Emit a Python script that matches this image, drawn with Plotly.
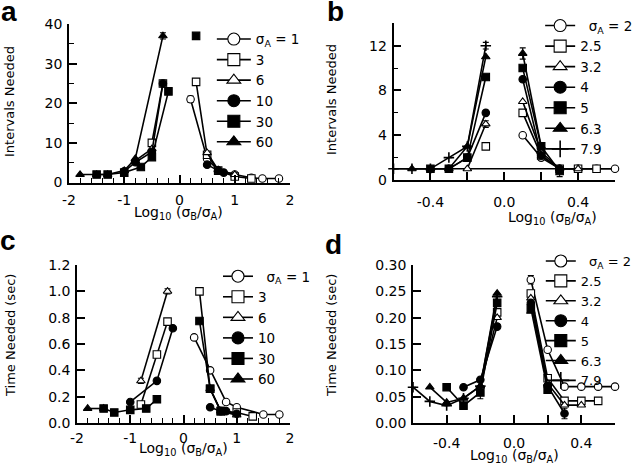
import plotly.graph_objects as go

# ---------------- Panel a : Intervals needed (sigma_A = 1 ... 60) ----------------
A_NAMES = ["σ<sub>A</sub> = 1", "3", "6", "10", "30", "60"]
A1_X = [0.2, 0.5, 0.7, 1.0, 1.3, 1.5, 1.8]
A1_Y = [21, 6, 3, 2, 1.2, 1, 1]
A1_E = [0.8, 0, 0, 0, 0, 0, 0]
A3_X = [-0.5, -0.3, None, 0.3, 0.5, 0.7, 1.0, 1.3]
A3_Y = [10, 25, None, 25.4, 7, 3, 1.5, 1]
A3_E = [0, 0.8, None, 0, 0, 0, 0, 0]
A6_X = [-0.8, -0.5, None, 0.5, 0.7, 1.0]
A6_Y = [5.5, 8.5, None, 7.5, 3.2, 2]
A6_E = [0, 0, None, 0, 0, 0]
A10_X = [-1.0, -0.8, -0.5, -0.3, None, 0.5, 0.7, 0.8]
A10_Y = [2.8, 5.1, 7.7, 25, None, 4.5, 3, 2.5]
A10_E = [0, 0, 0, 0, None, 0, 0, 0]
A30_X = [-1.5, -1.3, -1.0, -0.7, -0.5, -0.2, None, 0.3]
A30_Y = [2, 2, 2.5, 3.9, 6.4, 23, None, 37]
A30_E = [0, 0, 0, 0, 0, 0, None, 0]
A60_X = [-1.8, -1.5, -1.3, -1.0, -0.8, -0.3]
A60_Y = [2, 2, 2, 3, 6, 37]
A60_E = [0, 0, 0, 0, 0, 0.8]

# ---------------- Panel b : Intervals needed (sigma_A = 2 ... 7.9) ----------------
B_NAMES = ["\u00a0\u00a0σ<sub>A</sub> = 2", "2.5", "3.2", "4", "5", "6.3", "7.9"]
B2_X = [0.1, 0.2, 0.3, 0.4, 0.5, 0.6]
B2_Y = [4, 2, 1, 1, 1, 1]
B2_E = [0, 0, 0, 0, 0, 0]
B25_X = [-0.1, None, 0.1, 0.2, 0.3, 0.4, 0.5]
B25_Y = [3, None, 6, 2.2, 1, 1, 1]
B25_E = [0, None, 0, 0, 0, 0, 0]
B32_X = [-0.2, -0.1, None, 0.1, 0.2, 0.3, 0.4]
B32_Y = [1, 5, None, 7, 2.5, 1, 1]
B32_E = [0, 0.3, None, 0, 0, 0, 0]
B4_X = [-0.3, -0.2, -0.1, None, 0.1, 0.2, 0.3]
B4_Y = [1, 2, 6, None, 9, 2.2, 1]
B4_E = [0, 0, 0, None, 0, 0, 0]
B5_X = [-0.4, -0.3, -0.2, -0.1, None, 0.1, 0.2, 0.3]
B5_Y = [1, 1, 2, 9.2, None, 10, 3, 0.8]
B5_E = [0, 0, 0, 0, None, 0, 0, 0.5]
B63_X = [-0.5, -0.4, -0.3, -0.2, -0.1, None, 0.1, 0.2]
B63_Y = [1, 1, 1, 3, 11, None, 11.3, 3]
B63_E = [0, 0, 0, 0, 0, None, 0.5, 0]
B79_X = [-0.6, -0.5, -0.4, -0.3, -0.2, -0.1]
B79_Y = [1, 1, 1, 2, 3, 12]
B79_E = [0, 0, 0, 0, 0, 0.3]
B_FLOOR = 1  # minimum possible number of intervals

# ---------------- Panel c : Time needed (sigma_A = 1 ... 60) ----------------
C_NAMES = ["\u00a0\u00a0σ<sub>A</sub> = 1", "3", "6", "10", "30", "60"]
C1_X = [0.2, 0.5, 0.8, 1.0, 1.5, 1.8]
C1_Y = [0.65, 0.40, 0.16, 0.12, 0.065, 0.065]
C1_E = [0.02, 0, 0, 0, 0, 0]
C3_X = [-0.8, -0.5, -0.3, None, 0.3, 0.5, 0.7, 1.0, 1.3]
C3_Y = [0.14, 0.52, 0.77, None, 1.0, 0.26, 0.09, 0.08, 0.05]
C3_E = [0, 0, 0.02, None, 0.02, 0, 0, 0, 0]
C6_X = [-0.8, -0.3, None, 0.5, 0.7, 1.0]
C6_Y = [0.32, 1.0, None, 0.26, 0.09, 0.06]
C6_E = [0.02, 0.02, None, 0, 0, 0]
C10_X = [-1.0, -0.5, -0.2, None, 0.5, 0.7, 0.8, 1.0]
C10_Y = [0.16, 0.32, 0.72, None, 0.12, 0.09, 0.09, 0.07]
C10_E = [0, 0, 0, None, 0, 0, 0, 0]
C30_X = [-1.5, -1.3, -1.0, -0.7, -0.5, None, 0.3, 0.5, 0.7]
C30_Y = [0.11, 0.08, 0.10, 0.11, 0.18, None, 0.775, 0.26, 0.09]
C30_E = [0, 0, 0, 0, 0, None, 0, 0, 0]
C60_X = [-1.8, -1.5]
C60_Y = [0.11, 0.11]
C60_E = [0, 0]

# ---------------- Panel d : Time needed (sigma_A = 2 ... 7.9) ----------------
D_NAMES = ["\u00a0\u00a0σ<sub>A</sub> = 2", "2.5", "3.2", "4", "5", "6.3", "7.9"]
D2_X = [0.1, 0.2, 0.3, 0.4, 0.5, 0.6]
D2_Y = [0.272, 0.139, 0.069, 0.069, 0.069, 0.069]
D2_E = [0.008, 0, 0, 0, 0, 0]
D25_X = [-0.1, None, 0.1, 0.2, 0.3, 0.4, 0.5]
D25_Y = [0.21, None, 0.246, 0.085, 0.042, 0.042, 0.042]
D25_E = [0, None, 0, 0, 0, 0, 0]
D32_X = [-0.2, -0.1, None, 0.1, 0.2, 0.3, 0.4]
D32_Y = [0.07, 0.20, None, 0.237, 0.075, 0.034, 0.034]
D32_E = [0, 0, None, 0, 0, 0, 0]
D4_X = [-0.3, -0.2, -0.1, None, 0.1, 0.2, 0.3]
D4_Y = [0.068, 0.082, 0.183, None, 0.228, 0.07, 0.018]
D4_E = [0, 0, 0, None, 0, 0, 0.01]
D5_X = [-0.4, -0.3, -0.2, -0.1, None, 0.1, 0.2]
D5_Y = [0.068, 0.033, 0.058, 0.228, None, 0.218, 0.063]
D5_E = [0, 0, 0.012, 0, None, 0, 0]
D63_X = [-0.5, -0.4, -0.3, -0.2, -0.1, None, 0.1]
D63_Y = [0.068, 0.039, 0.047, 0.07, 0.246, None, 0.212]
D63_E = [0, 0, 0, 0, 0, None, 0]
D79_X = [-0.6, -0.5, -0.4, -0.3, -0.2, -0.1]
D79_Y = [0.068, 0.041, 0.033, 0.047, 0.07, 0.24]
D79_E = [0, 0, 0, 0, 0, 0]

OPEN = "white"
FILL = "black"
STYLE6 = [("circle", OPEN), ("square", OPEN), ("triangle-up", OPEN),
          ("circle", FILL), ("square", FILL), ("triangle-up", FILL)]
STYLE7 = STYLE6 + [("cross-thin", FILL)]

FONT = "DejaVu Sans"
fig = go.Figure()


def mk(sym, col, size):
    return dict(symbol=sym, size=size, color=col,
                line=dict(color="black", width=1.6 if sym == "cross-thin" else 1.1))


def add_series(names, series, styles, xa, ya, legend):
    # legend entries first (larger symbols, as in the key of the original figure)
    for name, (sym, col) in zip(names, styles):
        fig.add_trace(go.Scatter(
            x=[None], y=[None], name=name, mode="lines+markers",
            line=dict(color="black", width=1.6), marker=mk(sym, col, 12),
            xaxis=xa, yaxis=ya, legend=legend, showlegend=True, hoverinfo="skip",
        ))
    # error bars
    for xs, ys, es in series:
        fig.add_trace(go.Scatter(
            x=xs, y=ys, mode="markers", marker=dict(size=1, color="rgba(0,0,0,0)"),
            xaxis=xa, yaxis=ya, showlegend=False, hoverinfo="skip", cliponaxis=False,
            error_y=dict(type="data", array=[0 if e is None else e for e in es],
                         color="black", thickness=1.1, width=3),
        ))
    # data lines + markers
    for name, (xs, ys, es), (sym, col) in zip(names, series, styles):
        fig.add_trace(go.Scatter(
            x=xs, y=ys, name=name, mode="lines+markers",
            line=dict(color="black", width=1.6), marker=mk(sym, col, 7.5),
            xaxis=xa, yaxis=ya, showlegend=False, cliponaxis=False, connectgaps=False,
        ))


add_series(A_NAMES, [(A1_X, A1_Y, A1_E), (A3_X, A3_Y, A3_E), (A6_X, A6_Y, A6_E),
                     (A10_X, A10_Y, A10_E), (A30_X, A30_Y, A30_E), (A60_X, A60_Y, A60_E)],
           STYLE6, "x", "y", "legend")

fig.add_trace(go.Scatter(x=[-0.6, 0.6], y=[B_FLOOR, B_FLOOR], mode="lines",
                         line=dict(color="black", width=1.6), xaxis="x2", yaxis="y2",
                         showlegend=False, hoverinfo="skip", cliponaxis=False))
add_series(B_NAMES, [(B2_X, B2_Y, B2_E), (B25_X, B25_Y, B25_E), (B32_X, B32_Y, B32_E),
                     (B4_X, B4_Y, B4_E), (B5_X, B5_Y, B5_E), (B63_X, B63_Y, B63_E),
                     (B79_X, B79_Y, B79_E)],
           STYLE7, "x2", "y2", "legend2")

add_series(C_NAMES, [(C1_X, C1_Y, C1_E), (C3_X, C3_Y, C3_E), (C6_X, C6_Y, C6_E),
                     (C10_X, C10_Y, C10_E), (C30_X, C30_Y, C30_E), (C60_X, C60_Y, C60_E)],
           STYLE6, "x3", "y3", "legend3")

add_series(D_NAMES, [(D2_X, D2_Y, D2_E), (D25_X, D25_Y, D25_E), (D32_X, D32_Y, D32_E),
                     (D4_X, D4_Y, D4_E), (D5_X, D5_Y, D5_E), (D63_X, D63_Y, D63_E),
                     (D79_X, D79_Y, D79_E)],
           STYLE7, "x4", "y4", "legend4")

W, H = 640, 466


def xd(a, b):
    return [a / W, b / W]


def yd(top, bottom):
    return [1 - bottom / H, 1 - top / H]


def axis(domain, rng, anchor, tickvals, ticktext, minor_dtick=None, minor_len=5, ticklen=8,
         standoff=2):
    d = dict(domain=domain, range=rng, anchor=anchor, showline=True, linecolor="black",
             linewidth=1.6, ticks="inside", ticklen=ticklen, tickwidth=1.6, tickcolor="black",
             tickvals=tickvals, ticktext=ticktext, showgrid=False, zeroline=False,
             tickfont=dict(family=FONT, size=14, color="black"), ticklabelstandoff=standoff,
             fixedrange=True, automargin=False)
    if minor_dtick:
        d["minor"] = dict(dtick=minor_dtick, ticks="inside", ticklen=minor_len,
                          tickwidth=1.4, tickcolor="black", showgrid=False)
    return d


XA_TICKS = [-2, -1, 0, 1, 2]
XA_TEXT = ["-2", "-1", "0", "1", "2"]
XB_TICKS = [-0.6, -0.4, -0.2, 0.0, 0.2, 0.4, 0.6]
XB_TEXT = ["", "-0.4", "", "0.0", "", "0.4", ""]

fig.update_layout(
    template="none",
    width=W, height=H, margin=dict(l=0, r=0, t=0, b=0, pad=0, autoexpand=False),
    paper_bgcolor="white", plot_bgcolor="white",
    font=dict(family=FONT, color="black"),
    xaxis=axis(xd(69, 290), [-2, 2], "y", XA_TICKS, XA_TEXT, minor_dtick=0.2, standoff=4),
    yaxis=axis(yd(24, 182.5), [0, 40], "x", [0, 10, 20, 30, 40], ["0", "10", "20", "30", "40"],
               minor_dtick=5),
    xaxis2=axis(xd(393.5, 615), [-0.6, 0.6], "y2", XB_TICKS, XB_TEXT, standoff=8),
    yaxis2=axis(yd(23.3, 180), [0, 14], "x2", [0, 4, 8, 12], ["0", "4", "8", "12"],
                minor_dtick=2),
    xaxis3=axis(xd(77, 290), [-2, 2], "y3", XA_TICKS, XA_TEXT, minor_dtick=0.2, standoff=1),
    yaxis3=axis(yd(265, 423), [0, 1.2], "x3", [0, 0.2, 0.4, 0.6, 0.8, 1.0, 1.2],
                ["0.0", "0.2", "0.4", "0.6", "0.8", "1.0", "1.2"]),
    xaxis4=axis(xd(413, 615), [-0.6, 0.6], "y4", XB_TICKS, XB_TEXT, standoff=6),
    yaxis4=axis(yd(265, 423), [0, 0.3], "x4", [0, 0.05, 0.1, 0.15, 0.2, 0.25, 0.3],
                ["0.00", "0.05", "0.10", "0.15", "0.20", "0.25", "0.30"]),
    showlegend=True,
)

leg_common = dict(xanchor="left", yanchor="top", bgcolor="rgba(0,0,0,0)", borderwidth=0,
                  itemsizing="trace", tracegroupgap=0, itemwidth=30)
LEG_FONT = dict(family=FONT, size=13.5, color="black")
fig.update_layout(
    legend=dict(x=0.331, y=0.949, font=LEG_FONT, **{**leg_common, "itemwidth": 34}),
    legend2=dict(x=0.844, y=0.978, font=LEG_FONT, **leg_common),
    legend3=dict(x=0.3406, y=0.440, font=LEG_FONT, **leg_common),
    legend4=dict(x=0.845, y=0.472, font=dict(family=FONT, size=13, color="black"),
                 maxheight=420, **leg_common),
)

XTITLE = "Log<sub>10</sub> (σ<sub>B</sub>/σ<sub>A</sub>)"
ann = []
for x, y, t in [(178, 213, XTITLE), (552, 218, XTITLE), (183, 449, XTITLE), (514, 456, XTITLE)]:
    ann.append(dict(x=x / W, y=1 - y / H, xref="paper", yref="paper", text=t, showarrow=False,
                    font=dict(family=FONT, size=14), xanchor="center", yanchor="middle"))
for x, y, t in [(10, 102, "Intervals Needed"), (331, 100, "Intervals Needed"),
                (10, 336, "Time Needed (sec)"), (331, 336, "Time Needed (sec)")]:
    ann.append(dict(x=x / W, y=1 - y / H, xref="paper", yref="paper", text=t, showarrow=False,
                    textangle=-90, font=dict(family=FONT, size=13),
                    xanchor="center", yanchor="middle"))
for x, y, t in [(9, 12, "a"), (335, 12, "b"), (8, 240, "c"), (333, 244, "d")]:
    ann.append(dict(x=x / W, y=1 - y / H, xref="paper", yref="paper", text="<b>" + t + "</b>",
                    showarrow=False, font=dict(family="Liberation Sans", size=28),
                    xanchor="center", yanchor="middle"))
fig.update_layout(annotations=ann)

fig.write_html("out.html", config={"displayModeBar": False},
               post_script="document.body.style.margin='0px';document.body.style.overflow='hidden';")
